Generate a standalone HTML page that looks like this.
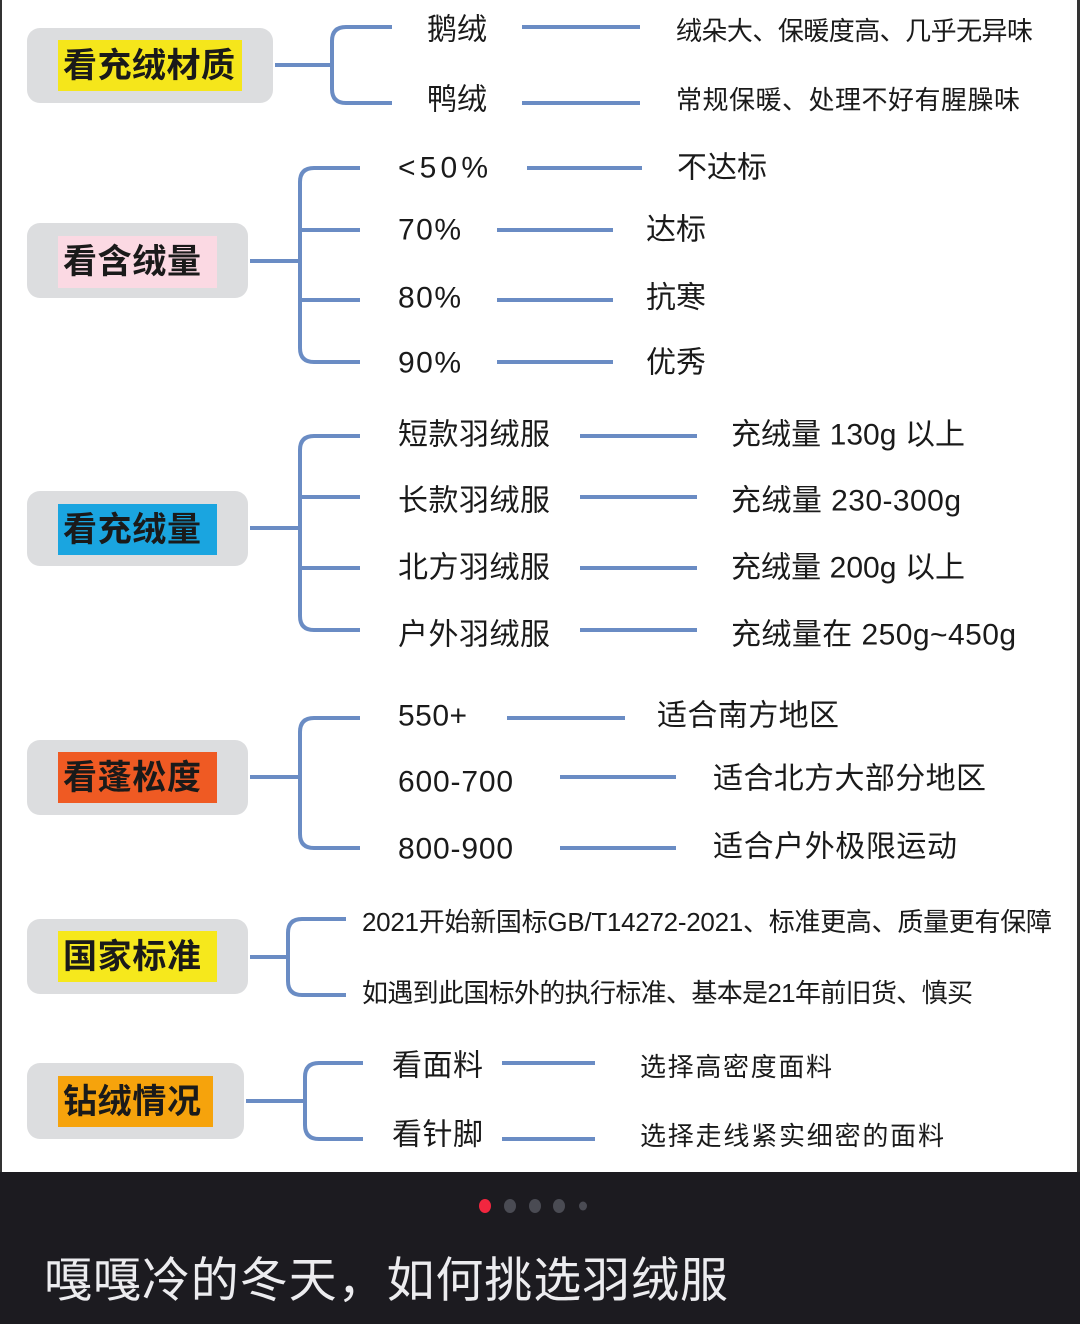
<!DOCTYPE html>
<html><head><meta charset="utf-8"><style>
html,body{margin:0;padding:0;width:1080px;height:1324px;overflow:hidden;background:#fff}
svg text{font-family:"Liberation Sans","Noto Sans CJK SC",sans-serif;fill:#1a1a1a}
</style></head><body>
<svg width="1080" height="1324" viewBox="0 0 1080 1324" xmlns="http://www.w3.org/2000/svg">
<rect x="0" y="0" width="1080" height="1172" fill="#fff"/>
<rect x="0" y="0" width="2" height="1172" fill="#333"/>
<rect x="1077" y="0" width="3" height="1172" fill="#333"/>
<rect x="0" y="1172" width="1080" height="152" fill="#1c1b20"/>
<g fill="#dcdddf">
<rect x="27" y="28" width="246" height="75" rx="13"/>
<rect x="27" y="223" width="221" height="75" rx="13"/>
<rect x="27" y="491" width="221" height="75" rx="13"/>
<rect x="27" y="740" width="221" height="75" rx="13"/>
<rect x="27" y="919" width="221" height="75" rx="13"/>
<rect x="27" y="1063" width="217" height="76" rx="13"/>
</g>
<rect x="58" y="40" width="184" height="51" fill="#f5e61b"/>
<rect x="58" y="236" width="159" height="52" fill="#fbd9e3"/>
<rect x="58" y="504" width="159" height="51" fill="#1aa5e0"/>
<rect x="58" y="752" width="159" height="51" fill="#ef5a23"/>
<rect x="58" y="931" width="159" height="51" fill="#f6e81c"/>
<rect x="58" y="1076" width="155" height="51" fill="#f6a30c"/>
<g font-size="34" font-weight="bold" dominant-baseline="central">
<text x="63" y="66" textLength="172">看充绒材质</text>
<text x="63" y="262" textLength="138">看含绒量</text>
<text x="63" y="530" textLength="138">看充绒量</text>
<text x="63" y="778" textLength="138">看蓬松度</text>
<text x="63" y="957" textLength="138">国家标准</text>
<text x="63" y="1102" textLength="138">钻绒情况</text>
</g>
<g stroke="#6a8cc4" stroke-width="4" fill="none">
<path d="M275 65H332 M392 27H346Q332 27 332 41V89Q332 103 346 103H392"/>
<path d="M522 27H640 M522 103H640"/>
<path d="M250 261H300 M360 168H314Q300 168 300 182V348Q300 362 314 362H360 M300 230H360 M300 300H360"/>
<path d="M527 168H642 M497 230H613 M497 300H613 M497 362H613"/>
<path d="M250 528H300 M360 436H314Q300 436 300 450V616Q300 630 314 630H360 M300 497H360 M300 568H360"/>
<path d="M580 436H697 M580 497H697 M580 568H697 M580 630H697"/>
<path d="M250 777H300 M360 718H314Q300 718 300 732V834Q300 848 314 848H360"/>
<path d="M507 718H625 M560 777H676 M560 848H676"/>
<path d="M250 957H288 M346 919H302Q288 919 288 933V981Q288 995 302 995H346"/>
<path d="M246 1101H305 M363 1063H319Q305 1063 305 1077V1125Q305 1139 319 1139H363"/>
<path d="M502 1063H595 M502 1139H595"/>
</g>
<g font-size="30" dominant-baseline="central">
<text x="427" y="30" textLength="60">鹅绒</text><text x="427" y="100" textLength="60">鸭绒</text>
<text x="398" y="168" textLength="90">&lt;50%</text><text x="398" y="230" textLength="63">70%</text><text x="398" y="298" textLength="63">80%</text><text x="398" y="363" textLength="63">90%</text>
<text x="398" y="435" textLength="152">短款羽绒服</text><text x="398" y="501" textLength="152">长款羽绒服</text><text x="398" y="568" textLength="152">北方羽绒服</text><text x="398" y="635" textLength="152">户外羽绒服</text>
<text x="398" y="716" textLength="69">550+</text><text x="398" y="782" textLength="115">600-700</text><text x="398" y="849" textLength="115">800-900</text>
<text x="392" y="1066" textLength="91">看面料</text><text x="392" y="1135" textLength="91">看针脚</text>
<text x="677" y="168" textLength="90">不达标</text><text x="646" y="230" textLength="60">达标</text><text x="646" y="298" textLength="60">抗寒</text><text x="646" y="363" textLength="60">优秀</text>
<text x="731" y="435" textLength="234">充绒量 130g 以上</text><text x="731" y="501" textLength="230">充绒量 230-300g</text><text x="731" y="568" textLength="234">充绒量 200g 以上</text><text x="731" y="635" textLength="285">充绒量在 250g~450g</text>
<text x="657" y="716" textLength="182">适合南方地区</text><text x="713" y="779" textLength="273">适合北方大部分地区</text><text x="713" y="847" textLength="244">适合户外极限运动</text>
</g>
<g font-size="26" dominant-baseline="central">
<text x="676" y="31" textLength="357">绒朵大、保暖度高、几乎无异味</text>
<text x="676" y="100" textLength="344">常规保暖、处理不好有腥臊味</text>
<text x="640" y="1067" textLength="192">选择高密度面料</text>
<text x="640" y="1136" textLength="304">选择走线紧实细密的面料</text>
<text x="362" y="922" textLength="690">2021开始新国标GB/T14272-2021、标准更高、质量更有保障</text>
<text x="362" y="993" textLength="611">如遇到此国标外的执行标准、基本是21年前旧货、慎买</text>
</g>
<ellipse cx="485" cy="1206" rx="6" ry="7" fill="#f2263f"/>
<ellipse cx="510" cy="1206" rx="6" ry="7" fill="#4a4b53"/>
<ellipse cx="535" cy="1206" rx="6" ry="7" fill="#4a4b53"/>
<ellipse cx="559" cy="1206" rx="6" ry="7" fill="#4a4b53"/>
<ellipse cx="583" cy="1206" rx="4" ry="4.5" fill="#4a4b53"/>
<text x="44" y="1281" font-size="48" dominant-baseline="central" textLength="684" style="fill:#ececef">嘎嘎冷的冬天，如何挑选羽绒服</text>
</svg>
</body></html>
